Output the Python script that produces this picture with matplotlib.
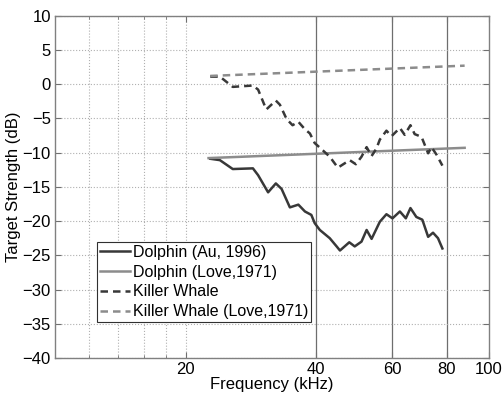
import numpy as np
import matplotlib
matplotlib.use('Agg')
import matplotlib.pyplot as plt

#fonte parecida com Arial
plt.rcParams['font.family'] = ['Liberation Sans', 'DejaVu Sans']

#dados (kHz, dB)
freq_dolphin_au = [22.8, 24.0, 25.7, 28.6, 29.4, 31.0, 32.3, 33.3, 34.8, 36.4, 37.7, 39.0, 39.7,
                   40.8, 43.0, 44.6, 45.4, 47.7, 49.1, 50.9, 52.3, 53.7, 56.1, 58.1, 60.0, 62.4,
                   64.4, 66.0, 68.1, 70.3, 72.5, 74.4, 76.4, 78.2]
ts_dolphin_au = [-10.9, -11.1, -12.4, -12.3, -13.3, -15.8, -14.5, -15.3, -18.0, -17.6, -18.6, -19.1, -20.3,
                 -21.3, -22.5, -23.7, -24.3, -23.1, -23.7, -23.0, -21.3, -22.6, -20.1, -19.0, -19.6, -18.6,
                 -19.6, -18.1, -19.4, -19.8, -22.3, -21.7, -22.5, -24.0]

freq_dolphin_love = [22.6, 88.0]
ts_dolphin_love = [-10.8, -9.3]

freq_kw = [22.8, 24.0, 25.7, 28.6, 29.4, 30.7, 32.3, 33.0, 34.2, 35.3, 36.4, 37.7, 38.7, 39.7,
           41.5, 43.0, 44.9, 47.8, 49.4, 50.9, 52.3, 53.7, 55.1, 56.1, 58.1, 59.7, 62.4, 64.0,
           66.0, 67.5, 70.0, 72.5, 73.8, 75.8, 78.2]
ts_kw = [1.1, 1.1, -0.4, -0.2, -0.8, -3.7, -2.4, -3.0, -5.1, -6.0, -5.5, -6.6, -7.2, -8.6,
         -9.7, -10.6, -12.2, -11.1, -11.7, -10.6, -9.2, -10.5, -9.4, -8.1, -6.8, -7.6, -6.4, -7.4,
         -6.0, -7.3, -7.7, -10.1, -9.2, -10.3, -11.9]

freq_kw_love = [22.8, 88.0]
ts_kw_love = [1.2, 2.7]

#%%
fig = plt.figure(figsize=(5.03, 3.98), dpi=100)
ax = fig.add_axes([0.1093, 0.1005, 0.8623, 0.8601])

ax.set_xscale('log')
ax.set_xlim(10, 100)
ax.set_ylim(-40, 10)

#grade
for xg in [12, 14, 16, 18, 20]:
    ax.axvline(xg, color='#b0b0b0', linestyle=':', linewidth=0.8, zorder=0)
for xg in [40, 60, 80]:
    ax.axvline(xg, color='#6e6e6e', linestyle='-', linewidth=0.9, zorder=0)
ax.grid(axis='y', color='#b0b0b0', linestyle=':', linewidth=0.8)
ax.set_axisbelow(True)

ax.plot(freq_dolphin_au, ts_dolphin_au, color='#383838', linewidth=1.8, label='Dolphin (Au, 1996)')
ax.plot(freq_dolphin_love, ts_dolphin_love, color='#8c8c8c', linewidth=1.8, label='Dolphin (Love,1971)')
ax.plot(freq_kw, ts_kw, color='#383838', linewidth=1.8, linestyle=(0, (3, 2)), label='Killer Whale')
ax.plot(freq_kw_love, ts_kw_love, color='#8c8c8c', linewidth=1.8, linestyle=(0, (3, 2)),
        label='Killer Whale (Love,1971)')

ax.set_xticks([20, 40, 60, 80, 100])
ax.set_xticklabels(['20', '40', '60', '80', '100'])
ax.set_xticks([12, 14, 16, 18], minor=True)
ax.xaxis.set_minor_formatter(matplotlib.ticker.NullFormatter())
ax.set_yticks(np.arange(-40, 11, 5))
ax.tick_params(direction='in', which='both', top=True, right=True, labelsize=12,
               length=4, color='#707070', pad=3)
ax.tick_params(which='minor', length=2.5)
for s in ax.spines.values():
    s.set_color('#808080')
    s.set_linewidth(1.0)

ax.set_xlabel('Frequency (kHz)', fontsize=12, labelpad=0)
ax.set_ylabel('Target Strength (dB)', fontsize=12, labelpad=1)

leg = ax.legend(loc='upper left', bbox_to_anchor=(0.0968, 0.34), borderaxespad=0,
                fancybox=False, edgecolor='#303030', framealpha=1, fontsize=11.5,
                handlelength=1.85, handletextpad=0.2, labelspacing=0.3, borderpad=0.2)
leg.get_frame().set_linewidth(0.8)

plt.savefig('out.png', dpi=100)
